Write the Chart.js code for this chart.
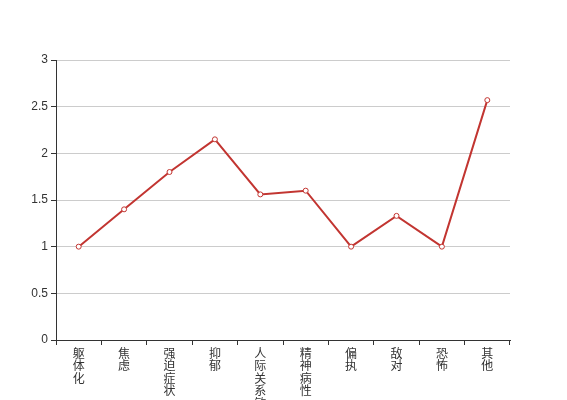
<!DOCTYPE html>
<html><head><meta charset="utf-8">
<script src="https://cdn.jsdelivr.net/npm/chart.js@4/dist/chart.umd.min.js"></script>
<style>html,body{margin:0;padding:0;background:#fff}#c{display:block}</style>
</head><body>
<canvas id="c" width="567" height="400"></canvas>
<script>
const categories = ['躯体化','焦虑','强迫症状','抑郁','人际关系敏感','精神病性','偏执','敌对','恐怖','其他'];
const values = [1.0, 1.4, 1.8, 2.15, 1.56, 1.6, 1.0, 1.33, 1.0, 2.57];
const yTicks = [0, 0.5, 1, 1.5, 2, 2.5, 3];

const font = {family: '"Liberation Sans", "Noto Sans CJK SC", sans-serif', size: 12};
new Chart(document.getElementById('c'), {
  type: 'line',
  data: {
    labels: categories.map(s => s.split('')),
    datasets: [{
      data: values,
      borderColor: '#c23531',
      backgroundColor: '#fff',
      borderWidth: 2,
      pointRadius: 2.5,
      pointBorderWidth: 1,
      pointBackgroundColor: '#fff',
      pointBorderColor: '#c23531',
      tension: 0
    }]
  },
  options: {
    responsive: false,
    animation: false,
    events: [],
    layout: {padding: {top: 60, right: 57, bottom: 0, left: 0}},
    plugins: {legend: {display: false}, tooltip: {enabled: false}},
    scales: {
      x: {
        offset: true,
        grid: {offset: true, drawOnChartArea: false, drawTicks: true, tickLength: 5, color: '#333', tickColor: '#333'},
        border: {color: '#333', width: 1},
        ticks: {color: '#333', font: {...font, lineHeight: 1.05}, maxRotation: 0, minRotation: 0, autoSkip: false, padding: 3},
        afterFit: s => { s.height = 60; }
      },
      y: {
        min: 0, max: 3,
        afterBuildTicks: s => { s.ticks = yTicks.map(v => ({value: v})); },
        grid: {color: '#ccc', tickColor: '#333', tickLength: 5},
        border: {color: '#333', width: 1},
        ticks: {color: '#333', font: font, padding: 3, callback: v => String(v)},
        afterFit: s => { s.width = 56; }
      }
    }
  }
});
</script>
</body></html>
